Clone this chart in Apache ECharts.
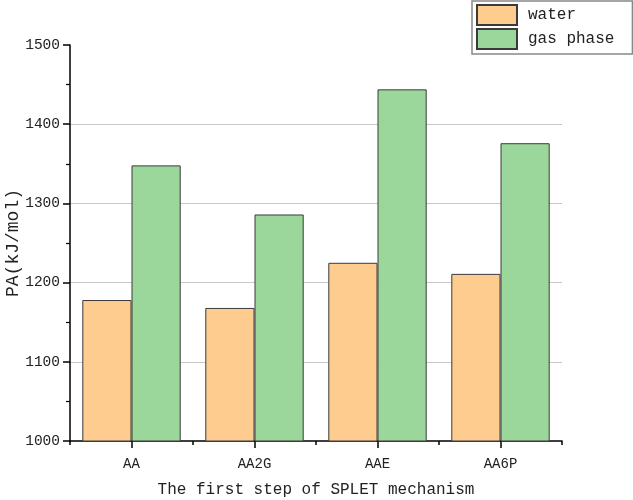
<!DOCTYPE html>
<html>
<head>
<meta charset="utf-8">
<script src="https://cdn.jsdelivr.net/npm/echarts@6/dist/echarts.min.js"></script>
<style>html,body{margin:0;padding:0;background:#fff}#c{width:633px;height:500px}</style>
</head>
<body>
<div id="c"></div>
<script>
const categories = ['AA', 'AA2G', 'AAE', 'AA6P'];
const waterValues = [1178, 1168, 1225, 1211];
const gasValues = [1348, 1286, 1444, 1376];
const seriesNames = ['water', 'gas phase'];
const yMin = 1000, yMax = 1500, yStep = 100;
const xTitle = 'The first step of SPLET mechanism';
const yTitle = 'PA(kJ/mol)';

const FONT = '"Liberation Mono", monospace';
const chart = echarts.init(document.getElementById('c'), null, {renderer: 'canvas'});
chart.setOption({
  animation: false,
  backgroundColor: '#fff',
  grid: {left: 70, right: 71, top: 45, bottom: 59, containLabel: false, outerBoundsMode: 'none'},
  legend: {
    orient: 'vertical', left: 472, top: 1,
    padding: [3, 18, 4, 4],
    itemWidth: 40, itemHeight: 20, itemGap: 2,
    icon: 'rect',
    borderColor: '#888', borderWidth: 1.5,
    textStyle: {fontFamily: FONT, fontSize: 16, color: '#222', padding: [0, 0, 0, 6]},
    data: seriesNames
  },
  xAxis: [{
    type: 'category', data: categories, position: 'bottom',
    axisLine: {show: true, onZero: false, lineStyle: {color: '#000', width: 1.5}},
    axisTick: {show: true, alignWithLabel: true, length: 7, lineStyle: {color: '#000', width: 1.5}},
    axisLabel: {fontFamily: FONT, fontSize: 14, color: '#222', margin: 16},
    name: xTitle, nameLocation: 'middle', nameGap: 41,
    nameTextStyle: {fontFamily: FONT, fontSize: 16, color: '#222'},
    splitLine: {show: false}
  }, {
    type: 'value', min: 0, max: categories.length, interval: 1, position: 'bottom', offset: 0,
    axisLine: {show: false, onZero: false},
    axisTick: {show: true, length: 4, lineStyle: {color: '#000', width: 1.5}},
    axisLabel: {show: false},
    splitLine: {show: false}
  }],
  yAxis: {
    type: 'value', min: yMin, max: yMax, interval: yStep,
    axisLine: {show: true, lineStyle: {color: '#000', width: 1.5}},
    axisTick: {show: true, length: 7, lineStyle: {color: '#000', width: 1.5}},
    minorTick: {show: true, splitNumber: 2, length: 4, lineStyle: {color: '#000', width: 1.2}},
    axisLabel: {fontFamily: FONT, fontSize: 14.5, color: '#222', margin: 10, formatter: v => String(v)},
    splitLine: {show: true, showMinLine: false, showMaxLine: false, lineStyle: {color: '#c8c8c8', width: 1}},
    name: yTitle, nameLocation: 'middle', nameGap: 48, nameMoveOverlap: false,
    nameTextStyle: {fontFamily: FONT, fontSize: 18, color: '#222'}
  },
  series: [{
    name: seriesNames[0], type: 'bar', data: waterValues, xAxisIndex: 0,
    barGap: '0%', barCategoryGap: '20%',
    itemStyle: {color: '#FFCC8F', borderColor: '#3a3a3a', borderWidth: 1}
  }, {
    name: seriesNames[1], type: 'bar', data: gasValues, xAxisIndex: 0,
    barGap: '0%', barCategoryGap: '20%',
    itemStyle: {color: '#9BD69A', borderColor: '#3a3a3a', borderWidth: 1}
  }, {
    name: 'tickHelper', type: 'scatter', xAxisIndex: 1, data: [], silent: true
  }]
});
</script>
</body>
</html>
